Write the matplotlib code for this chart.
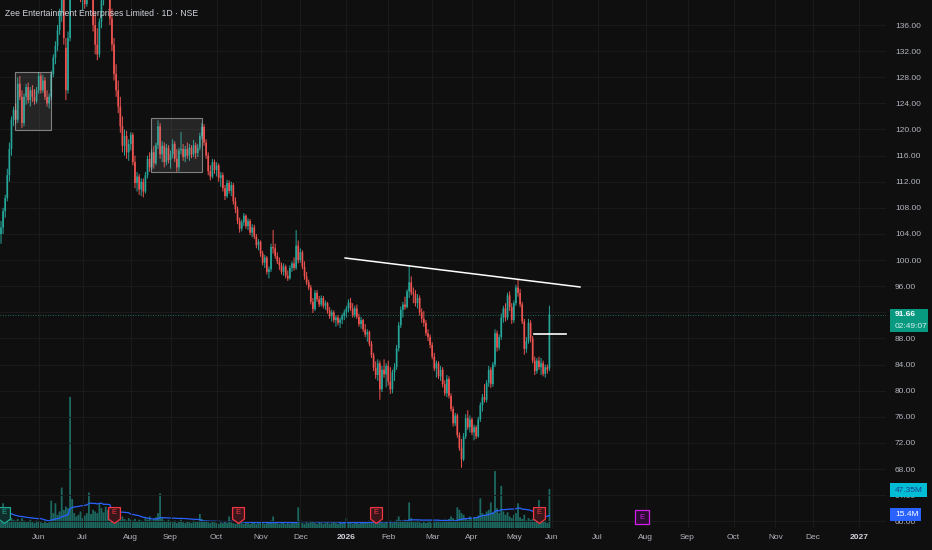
import matplotlib
matplotlib.use("Agg")
import matplotlib.pyplot as plt
import matplotlib.patches as mpatches
from matplotlib.transforms import blended_transform_factory
import numpy as np
import pandas as pd

BG = '#0f0f0f'
GRID = '#1b1b1b'
UP = '#26a69a'
DOWN = '#ef5350'
TXT = '#b2b5be'

plt.rcParams['font.family'] = ['Liberation Sans', 'DejaVu Sans']

TITLE = 'Zee Entertainment Enterprises Limited · 1D · NSE'

# daily OHLC, 7 May 2025 .. 29 May 2026 (bar index = trading day)
opens = [
    104, 105, 107.5, 109.5, 113, 117, 121.5, 123, 121.5, 127,
    125, 121, 125, 126.5, 124.5, 126, 125, 124.3, 126, 128.2,
    126, 127.5, 125, 124, 125, 128.5, 131, 132.8, 135.2, 137.8,
    140.2, 132.5, 126, 134, 141, 144.5, 146, 143, 145, 140.5,
    141.8, 139.2, 143.5, 146, 142, 136, 133, 131.5, 136.5, 139.8,
    143, 144.5, 141, 137, 133, 128.5, 126, 123.5, 120.5, 117.5,
    119, 116.5, 117.8, 119.2, 115, 111.8, 112.8, 110.8, 112, 110.5,
    113, 115.5, 114.2, 116.5, 114.8, 117.6, 120.5, 116.2, 117.5, 115,
    117.2, 115.3, 116.2, 117.8, 115.5, 114.2, 116.8, 117, 115.8, 117,
    116, 117.2, 116.2, 117.6, 116.4, 117.2, 119, 120.4, 118, 116,
    113.6, 112.8, 115, 113.8, 114.5, 112.6, 113, 111, 109.8, 111.8,
    110.6, 111.5, 109, 107.8, 106, 104.8, 105.8, 106.8, 105.2, 106,
    104.2, 105, 103.6, 102.3, 102.8, 101, 99.6, 100.4, 98.2, 98.6,
    102, 101.8, 100.6, 99.8, 99.2, 98.2, 99, 97.6, 97.2, 98.8,
    99.5, 98.8, 102.2, 100, 101.2, 99, 97.5, 96.6, 95.8, 93.6,
    92.5, 95, 94, 93.2, 94.2, 93, 93.4, 92.2, 91.4, 92,
    90.8, 91.2, 90.4, 90.9, 91.5, 92, 92.6, 93.5, 92.6, 91.6,
    92.6, 91.3, 90.2, 90.8, 89.4, 88.6, 89, 87.2, 85.4, 83.5,
    82.4, 84.2, 80.2, 83.2, 82.5, 83.8, 81.4, 80.2, 82.8, 83.6,
    86.5, 90, 92.4, 93.2, 92.8, 95.2, 96.6, 95, 94.8, 93.4,
    94.2, 92, 91, 90.4, 88.8, 88.2, 87, 85.2, 83.4, 84.2,
    82.2, 83.2, 81, 79.6, 81.8, 79.2, 77.2, 75, 76.2, 73.2,
    71.2, 69.5, 73, 75.8, 74.4, 75.6, 73.6, 74.4, 73, 75.6,
    77.8, 79, 78.6, 81.2, 83.2, 81, 84, 88.8, 86.6, 88.2,
    91.2, 92.6, 91.2, 94.6, 92.8, 90.8, 93.4, 95.8, 95, 93.2,
    90.6, 86.4, 87.6, 90.4, 88, 84.6, 83, 84.6, 83.6, 84.2,
    82.6, 83.6, 83.4,
]
highs = [
    106, 108, 110, 114, 118, 122, 123.5, 124, 128, 128.2,
    126, 125.5, 127, 127.2, 126.5, 126.8, 126.2, 126.5, 128.8, 128.6,
    128.4, 128, 126, 125.5, 129, 131.5, 133.5, 136, 138.5, 141,
    141.5, 134, 135, 142, 146, 148, 147, 146.5, 145.5, 143,
    142.5, 144, 147, 147.5, 143, 138, 135.5, 137, 140.5, 144,
    146, 145.5, 142, 138.5, 134, 130, 127.5, 125, 122, 120,
    119.8, 118.5, 119.6, 119.5, 116, 113.5, 113.2, 112.5, 112.5, 113.5,
    116, 116.5, 117, 117.5, 118, 121.4, 121, 118.2, 118, 117.8,
    117.6, 116.8, 118.5, 118.2, 117, 117.2, 119.6, 117.8, 117.5, 118,
    117.8, 117.6, 118.4, 118, 117.8, 119.5, 121, 120.8, 118.5, 116.5,
    114.5, 115.5, 115.4, 115, 114.8, 113.5, 113.4, 111.5, 112.3, 112.2,
    112, 111.8, 109.6, 108.2, 106.5, 106.2, 107.2, 107, 106.4, 106.3,
    105.5, 105.4, 104, 103.2, 103, 101.4, 100.8, 100.6, 99, 102.5,
    104.6, 102.5, 101.2, 100.4, 99.6, 99.5, 99.3, 98.4, 99.2, 99.8,
    100.4, 104.6, 103, 101.8, 101.5, 99.8, 98.2, 97, 96.2, 94.2,
    95.4, 95.4, 94.5, 94.6, 94.5, 93.8, 93.6, 92.8, 92.4, 92.3,
    91.5, 91.6, 91.2, 91.8, 92.4, 93, 94, 94.2, 93.4, 93,
    93.2, 91.8, 91.3, 91, 90.2, 89.4, 89.2, 87.6, 85.8, 84.5,
    84.8, 84.6, 83.8, 84.8, 84.2, 84.6, 83.6, 83.2, 84.2, 87,
    90.5, 92.9, 93.6, 94.4, 95.5, 99.2, 97.5, 95.8, 95.4, 94.8,
    94.6, 92.6, 92.2, 90.8, 89.4, 88.6, 87.4, 85.8, 84.6, 84.5,
    83.8, 83.6, 81.6, 82.4, 82.2, 79.6, 77.6, 76.6, 76.5, 73.6,
    72.6, 73.5, 76.4, 77, 76.2, 75.9, 74.8, 74.7, 76, 78.2,
    79.5, 81, 81.6, 83.8, 83.6, 84.4, 89.4, 89.2, 88.6, 91.8,
    93, 93.4, 95, 95.2, 93.4, 93.8, 96.2, 97, 95.6, 93.6,
    91, 88.2, 91, 90.8, 88.4, 85.2, 85, 85.2, 85, 84.6,
    84, 84, 93,
]
lows = [
    102.5, 104, 106.5, 109, 112, 116, 120.5, 120.8, 121, 124.5,
    120.2, 120.5, 123.8, 124, 123.5, 124.2, 123.8, 124, 125.5, 125.5,
    125.6, 124.5, 123.5, 123.2, 124.5, 128, 130, 132, 134.5, 136.5,
    133, 124.5, 125.5, 133.5, 140, 142.5, 142, 141.5, 139.5, 138.3,
    138.5, 138.8, 142.5, 141, 135, 131.5, 130.6, 131, 135.5, 139,
    141.5, 140, 136, 132, 127.5, 125, 122.5, 119.5, 116.5, 116,
    115.5, 115.2, 116.8, 114.5, 111, 110.5, 110, 109.8, 109.6, 110.2,
    112.5, 113.5, 113.8, 114, 114.5, 117, 115.5, 115, 114.2, 114.5,
    114.8, 114, 115.6, 115, 113.5, 113.6, 116.2, 115.2, 115, 115.5,
    115.2, 115.6, 115.8, 115.5, 115.8, 116.8, 118.5, 117.5, 115.5, 113,
    112.2, 112.5, 113.2, 112.8, 112, 111.2, 110.5, 109.2, 109.5, 110.2,
    109.8, 108.5, 107.2, 105.5, 104.2, 104.4, 105.2, 104.8, 104.6, 103.8,
    103.5, 103.2, 101.8, 101.5, 100.5, 99.2, 98.8, 97.8, 97.2, 98.2,
    101, 100.2, 99.4, 98.5, 97.8, 97.6, 97.2, 96.8, 97, 98.2,
    98.4, 98.5, 99.5, 99.6, 98.6, 97, 96.2, 95.4, 93.2, 91.9,
    92.2, 93.6, 92.8, 92.9, 92.6, 92.4, 91.8, 91, 90.6, 90.4,
    89.8, 90, 89.6, 90.2, 90.8, 91.2, 92, 92.2, 91.2, 91.2,
    91, 89.8, 89.5, 89, 88.2, 87.5, 86.8, 85, 83, 81.8,
    81.5, 78.6, 79.8, 82, 80.5, 80.8, 79.5, 79.6, 81.5, 83.2,
    86, 89.6, 91.2, 92.4, 92.6, 94.2, 94.6, 93.4, 92.9, 92.6,
    91.5, 90.4, 89.8, 88.4, 87.6, 86.5, 84.8, 83, 82, 81.8,
    81.5, 80.5, 79.2, 79, 78.8, 76.8, 74.5, 74.6, 72.8, 70.8,
    68.2, 69.2, 72.6, 74, 73.6, 73.2, 72.4, 72.6, 72.8, 75.2,
    76.8, 78.2, 78.2, 80.6, 80.4, 80.6, 83.6, 86, 86.2, 87.8,
    90.4, 90.6, 90.8, 92.2, 90.2, 90.4, 93, 94.4, 92.8, 90.2,
    85.5, 85.8, 87.2, 87.4, 84.2, 82.4, 82.6, 83.2, 82.4, 82.2,
    82, 82.6, 83,
]
closes = [
    105, 107.5, 109.5, 113, 117, 121.5, 123, 121.5, 127, 125,
    121, 125, 126.5, 124.5, 126, 125, 124.3, 126, 128.2, 126,
    127.5, 125, 124, 125, 128.5, 131, 132.8, 135.2, 137.8, 140.2,
    134, 126, 134, 141, 144.5, 146, 143, 145, 140.5, 141.8,
    139.2, 143.5, 146, 142, 136, 133, 131.5, 136.5, 139.8, 143,
    144.5, 141, 137, 133, 128.5, 126, 123.5, 120.5, 117.5, 119,
    116.5, 117.8, 119.2, 115, 111.8, 112.8, 110.8, 112, 110.5, 113,
    115.5, 114.2, 116.5, 114.8, 117.6, 120.5, 116.2, 117.5, 115, 117.2,
    115.3, 116.2, 117.8, 115.5, 114.2, 116.8, 117, 115.8, 117, 116,
    117.2, 116.2, 117.6, 116.4, 117.2, 119, 120.4, 118, 116, 113.6,
    112.8, 115, 113.8, 114.5, 112.6, 113, 111, 109.8, 111.8, 110.6,
    111.5, 109, 107.8, 106, 104.8, 105.8, 106.8, 105.2, 106, 104.2,
    105, 103.6, 102.3, 102.8, 101, 99.6, 100.4, 98.2, 98.6, 102,
    101.8, 100.6, 99.8, 99.2, 98.2, 99, 97.6, 97.2, 98.8, 99.5,
    98.8, 102.2, 100, 101.2, 99, 97.5, 96.6, 95.8, 93.6, 92.5,
    95, 94, 93.2, 94.2, 93, 93.4, 92.2, 91.4, 92, 90.8,
    91.2, 90.4, 90.9, 91.5, 92, 92.6, 93.5, 92.6, 91.6, 92.6,
    91.3, 90.2, 90.8, 89.4, 88.6, 89, 87.2, 85.4, 83.5, 82.4,
    84.2, 80.2, 83.2, 82.5, 83.8, 81.4, 80.2, 82.8, 83.6, 86.5,
    90, 92.4, 93.2, 92.8, 95.2, 96.6, 95, 94.8, 93.4, 94.2,
    92, 91, 90.4, 88.8, 88.2, 87, 85.2, 83.4, 84.2, 82.2,
    83.2, 81, 79.6, 81.8, 79.2, 77.2, 75, 76.2, 73.2, 71.2,
    69.5, 73, 75.8, 74.4, 75.6, 73.6, 74.4, 73, 75.6, 77.8,
    79, 78.6, 81.2, 83.2, 81, 84, 88.8, 86.6, 88.2, 91.2,
    92.6, 91.2, 94.6, 92.8, 90.8, 93.4, 95.8, 95, 93.2, 90.6,
    86.4, 87.6, 90.4, 88, 84.6, 83, 84.6, 83.6, 84.2, 82.6,
    83.6, 83.2, 91.66,
]
# volume in millions of shares
volumes = [
    14, 30, 18, 16, 13, 12, 10, 9, 11, 8,
    12, 9, 7, 8, 10, 7, 6, 9, 8, 7,
    6, 9, 6, 7, 33, 18, 30, 16, 20, 49,
    22, 26, 24, 159, 35, 18, 14, 16, 20, 12,
    15, 18, 43, 17, 22, 20, 18, 30, 24, 19,
    26, 22, 17, 14, 13, 16, 12, 10, 14, 11,
    9, 12, 10, 9, 11, 8, 10, 9, 8, 12,
    10, 14, 9, 11, 13, 18, 42, 12, 9, 8,
    10, 8, 7, 9, 6, 8, 10, 7, 6, 8,
    7, 6, 9, 7, 8, 17, 11, 9, 8, 7,
    6, 8, 7, 6, 5, 7, 6, 8, 6, 14,
    7, 6, 5, 7, 8, 6, 5, 7, 6, 5,
    6, 7, 5, 6, 8, 6, 5, 7, 6, 9,
    14, 7, 6, 5, 6, 7, 5, 6, 5, 7,
    6, 8, 25, 9, 6, 5, 7, 6, 8, 7,
    6, 5, 7, 6, 5, 6, 7, 5, 6, 8,
    6, 5, 7, 6, 8, 12, 7, 6, 5, 6,
    7, 5, 6, 8, 7, 6, 9, 8, 7, 10,
    8, 11, 7, 6, 8, 7, 9, 6, 8, 10,
    14, 9, 8, 10, 9, 31, 12, 8, 7, 9,
    7, 6, 8, 6, 7, 9, 6, 7, 8, 9,
    7, 8, 10, 9, 11, 14, 12, 10, 25, 22,
    18, 16, 12, 10, 14, 11, 13, 12, 15, 36,
    18, 16, 20, 22, 31, 19, 69, 24, 18, 51,
    20, 16, 19, 14, 12, 16, 18, 30, 13, 11,
    16, 9, 12, 10, 11, 13, 9, 34, 10, 8,
    9, 6, 47.35,
]

month_labels = ['Jun', 'Jul', 'Aug', 'Sep', 'Oct', 'Nov', 'Dec', '2026', 'Feb', 'Mar',
                'Apr', 'May', 'Jun', 'Jul', 'Aug', 'Sep', 'Oct', 'Nov', 'Dec', '2027']
month_pos = [18, 39, 62, 81, 103, 124, 143, 165, 185, 206,
             225, 245, 263, 285, 308, 328, 350, 370, 388, 410]

# drawings: consolidation boxes (bar from, bar to, price low, price high)
boxes = [(6.7, 23.9, 119.9, 128.85), (71.7, 96.0, 113.5, 121.8)]
trend_x = [164.4, 276.6]
trend_y = [100.32, 95.88]
hline_x = [254.7, 270.0]
hline_y = 88.68
earnings_pos = [1.5, 54, 113, 179, 257]
earnings_next = 306
last_price = 91.66
countdown = '02:49:07'
vol_last_label = '47.35M'
vol_ma_label = '15.4M'


def fx(px):
    return px / 932


def fy(px):
    return 1 - px / 550


o = np.array(opens)
h = np.array(highs)
l = np.array(lows)
c = np.array(closes)
v = np.array(volumes)
x = np.arange(len(c))
vol_ma = pd.Series(v).rolling(20, min_periods=1).mean()

fig = plt.figure(figsize=(9.32, 5.5), dpi=100)
fig.patch.set_facecolor(BG)
ax = fig.add_axes([0, 22 / 550, 886 / 932, 528 / 550])
vax = ax.twinx()
ax.set_zorder(vax.get_zorder() + 1)
ax.patch.set_visible(False)

ax.set_xlim(-0.48, 422.8)
ax.set_ylim(58.97, 139.83)
vax.set_ylim(0, 640)

# volume pane
vbars = vax.bar(x, v, width=0.85, color=UP, alpha=0.6, linewidth=0)
for b in vbars:
    b.set_snap(False)
vax.plot(x, vol_ma, color='#2962ff', linewidth=0.9)
vax.set_yticks([])
vax.tick_params(right=False, labelright=False)

# grid
for yv in np.arange(60, 137, 4):
    ax.axhline(yv, color=GRID, linewidth=0.7, zorder=0)
for mp in month_pos:
    ax.axvline(mp, color=GRID, linewidth=0.7, zorder=0)

# candles
colors = np.where(c >= o, UP, DOWN)
wicks = ax.vlines(x, l, h, colors=colors, linewidth=0.7, zorder=2)
wicks.set_snap(False)
body = np.maximum(np.abs(c - o), 0.2)
bodies = ax.bar(x, body, bottom=np.minimum(o, c), width=0.8, color=colors, linewidth=0, zorder=3)
for b in bodies:
    b.set_snap(False)

for x0, x1, y0, y1 in boxes:
    ax.add_patch(mpatches.Rectangle((x0, y0), x1 - x0, y1 - y0,
                                    facecolor=(0.6, 0.6, 0.6, 0.16),
                                    edgecolor=(0.72, 0.72, 0.72, 0.65),
                                    linewidth=0.8, zorder=4))

ax.plot(trend_x, [trend_y[0], trend_y[1]], color='white', linewidth=1.1, zorder=5)
ax.plot(hline_x, [hline_y, hline_y], color='white', linewidth=1.2, zorder=5)
ax.axhline(last_price, color=UP, linewidth=0.6, linestyle=(0, (1, 2)), alpha=0.8, zorder=1)

# earnings markers
tr = blended_transform_factory(ax.transData, ax.transAxes)
shield = [(-0.75, 1), (0.75, 1), (0.75, -0.45), (0, -1), (-0.75, -0.45), (-0.75, 1)]
for i, ep in enumerate(earnings_pos):
    ec = '#22ab94' if i == 0 else '#f23645'
    fc = '#0f2e2a' if i == 0 else '#3a161b'
    ax.scatter([ep], [0.024], marker=shield, s=130, facecolor=fc, edgecolor=ec,
               linewidth=0.9, transform=tr, zorder=6, clip_on=False)
    ax.text(ep, 0.029, 'E', color=ec, fontsize=5.5, ha='center', va='center',
            transform=tr, zorder=7)
ax.scatter([earnings_next], [0.02], marker='s', s=110, facecolor='#2a0d30',
           edgecolor='#d21ee8', linewidth=0.9, transform=tr, zorder=6)
ax.text(earnings_next, 0.02, 'E', color='#d21ee8', fontsize=5.5, ha='center', va='center',
        transform=tr, zorder=7)

# axes cosmetics
for s in ax.spines.values():
    s.set_visible(False)
for s in vax.spines.values():
    s.set_visible(False)
ax.yaxis.tick_right()
ax.set_yticks(np.arange(60, 137, 4))
ax.set_yticklabels([f'{t:.2f}' for t in np.arange(60, 137, 4)])
ax.tick_params(axis='y', length=0, pad=6.5, labelsize=6, labelcolor=TXT)
ax.set_xticks(month_pos)
ax.set_xticklabels(month_labels)
ax.tick_params(axis='x', length=0, pad=4, labelsize=6, labelcolor=TXT)
for lab in ax.get_xticklabels():
    if lab.get_text().isdigit():
        lab.set_fontweight('bold')
        lab.set_color('#d1d4dc')

fig.text(fx(5), fy(13), TITLE, color='#d1d4dc', fontsize=6.2, ha='left', va='center')

# right-scale labels
fig.patches.append(mpatches.Rectangle((fx(890), fy(332)), fx(38), 23 / 550,
                                      transform=fig.transFigure, facecolor='#089981',
                                      edgecolor='none', zorder=10))
fig.text(fx(895), fy(315), f'{last_price:.2f}', color='white', fontsize=6, fontweight='bold',
         ha='left', va='center', zorder=11)
fig.text(fx(895), fy(326), countdown, color='#d8f0ec', fontsize=6, ha='left', va='center', zorder=11)

fig.patches.append(mpatches.Rectangle((fx(890), fy(497)), fx(37), 14 / 550,
                                      transform=fig.transFigure, facecolor='#00bcd4',
                                      edgecolor='none', zorder=10))
fig.text(fx(895), fy(490), vol_last_label, color='#1e3f8a', fontsize=6, ha='left', va='center', zorder=11)
fig.patches.append(mpatches.Rectangle((fx(890), fy(521)), fx(31), 13 / 550,
                                      transform=fig.transFigure, facecolor='#2962ff',
                                      edgecolor='none', zorder=10))
fig.text(fx(895), fy(514.5), vol_ma_label, color='white', fontsize=6, ha='left', va='center', zorder=11)

fig.savefig('out.png', dpi=100, facecolor=BG)
